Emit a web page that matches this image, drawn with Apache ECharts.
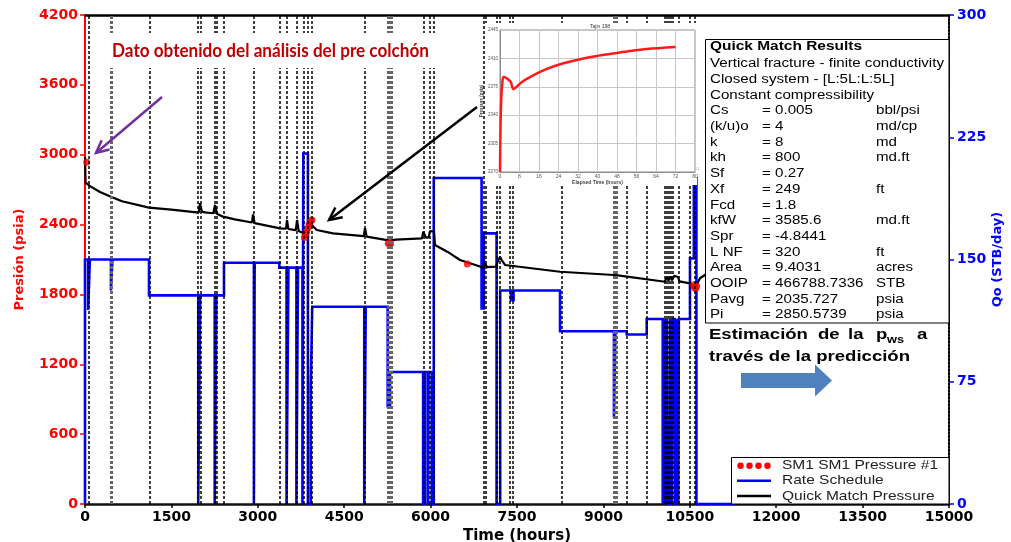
<!DOCTYPE html>
<html>
<head>
<meta charset="utf-8">
<script src="https://cdn.jsdelivr.net/npm/echarts@6/dist/echarts.min.js"></script>
<style>
  html, body { margin: 0; padding: 0; background: #fff; }
  #chart { width: 1011px; height: 542px; }
</style>
</head>
<body>
<div id="chart"></div>
<script>
// ejes
const timeTicks = [0, 1500, 3000, 4500, 6000, 7500, 9000, 10500, 12000, 13500, 15000];
const pressureTicks = [0, 600, 1200, 1800, 2400, 3000, 3600, 4200];
const rateTicks = [0, 75, 150, 225, 300];
const elapsedTicks = [0, 8, 16, 24, 32, 40, 48, 56, 64, 72, 80];
const buildupTicks = [2270, 2305, 2340, 2375, 2410, 2445];

// Quick Match Pressure [horas, psia]
const quickMatchPressure = [
  [0, 2980], [10, 2760], [87, 2730], [260, 2680], [451, 2639], [642, 2600], [1111, 2545], [1500, 2528],
  [1939, 2505], [1975, 2505], [1997, 2583], [2030, 2510], [2083, 2505], [2227, 2497], [2245, 2500],
  [2257, 2568], [2290, 2492], [2396, 2468], [2600, 2445], [2900, 2418], [2917, 2488], [2945, 2412],
  [3385, 2368], [3490, 2365], [3507, 2439], [3530, 2362], [3660, 2352], [3681, 2439], [3710, 2345],
  [3785, 2328], [3810, 2285], [3860, 2300], [3906, 2425], [3950, 2390], [4023, 2353], [4306, 2325],
  [4840, 2300], [4861, 2370], [4890, 2296], [5295, 2262], [5400, 2270], [5850, 2282], [5873, 2339],
  [5920, 2287], [5965, 2290], [5990, 2345], [6059, 2339], [6076, 2224], [6337, 2153], [6510, 2096],
  [6858, 2040], [6900, 2030], [6944, 2067], [6980, 2035], [7135, 2038], [7165, 2080], [7205, 2124],
  [7240, 2090], [7292, 2053], [8247, 1995], [9184, 1967], [9200, 1975], [9220, 1966], [10069, 1909],
  [10100, 1950], [10130, 1920], [10160, 1955], [10190, 1922], [10230, 1960], [10295, 1950], [10320, 1912],
  [10503, 1895], [10590, 1853], [10677, 1939], [10851, 1995]
];

// SM1 SM1 Pressure #1 [horas, psia]
const sm1Pressure = [
  [30, 2935], [3810, 2290], [3830, 2310], [3850, 2340], [3870, 2370], [3890, 2400], [3920, 2430],
  [3940, 2440], [5265, 2240], [5285, 2232], [5305, 2238], [6637, 2061], [10560, 1880], [10580, 1862],
  [10600, 1850], [10620, 1870]
];

// Rate Schedule [horas, STB/day]
const rateSchedule = [
  [0, 0], [0, 150], [55, 150], [55, 119], [85, 119], [85, 150], [450, 150], [450, 131], [476, 131],
  [476, 150], [1111, 150], [1111, 128], [1966, 128], [1966, 0], [1999, 0], [1999, 128], [2252, 128],
  [2252, 0], [2281, 0], [2281, 128], [2413, 128], [2413, 148], [2932, 148], [2932, 0], [2946, 0],
  [2946, 148], [3373, 148], [3373, 145], [3499, 145], [3499, 0], [3532, 0], [3532, 145], [3670, 145],
  [3670, 0], [3698, 0], [3698, 145], [3775, 145], [3775, 0], [3790, 0], [3790, 215], [3870, 215],
  [3870, 0], [3920, 0], [3920, 73], [3945, 73], [3945, 121], [4848, 121], [4848, 0], [4874, 0],
  [4874, 121], [5255, 121], [5255, 60], [5295, 60], [5295, 81], [5870, 81], [5870, 0], [5905, 0],
  [5905, 81], [5955, 81], [5955, 0], [5965, 0], [5965, 81], [6020, 81], [6020, 0], [6055, 0],
  [6055, 200], [6885, 200], [6885, 120], [6925, 120], [6925, 166], [7145, 166], [7145, 0], [7208, 0],
  [7208, 131], [7395, 131], [7395, 125], [7440, 125], [7440, 131], [8247, 131], [8247, 106],
  [9183, 106], [9183, 53], [9209, 53], [9209, 106], [9405, 106], [9405, 104], [9752, 104],
  [9752, 113.5], [10030, 113.5], [10030, 0], [10060, 0], [10060, 113.5], [10075, 113.5], [10075, 0],
  [10105, 0], [10105, 113.5], [10120, 113.5], [10120, 0], [10160, 0], [10160, 113.5], [10185, 113.5],
  [10185, 0], [10205, 0], [10205, 113.5], [10240, 113.5], [10240, 0], [10275, 0], [10275, 113.5],
  [10300, 113.5], [10300, 0], [10310, 0], [10310, 113.5], [10503, 113.5], [10503, 150.7],
  [10570, 150.7], [10570, 200], [10615, 200], [10615, 0], [11300, 0]
];

// cambios de caudal (lineas punteadas)
const eventTimes = [69, 1116, 1957, 2009, 2245, 2286, 2413, 2922, 3373, 3502, 3675, 3790, 3859, 3936,
  4861, 5873, 5977, 6059, 6915, 6962, 7153, 7205, 7378, 7418, 8276, 9410, 9757, 10069, 10104, 10139,
  10174, 10208, 10304, 10503, 10582];
const grayEventTimes = [464, 5270, 5310, 9195, 9225];

// restauracion (inset) [horas transcurridas, psia]
const buildupCurve = [
  [0, 2270], [0.1, 2300], [0.3, 2340], [0.6, 2365], [1, 2381], [1.4, 2387], [2.5, 2386], [3.4, 2384],
  [4.4, 2381], [5.5, 2372], [6.8, 2375], [9, 2381], [12.3, 2387], [19.2, 2397], [26, 2404],
  [32.8, 2409], [39.7, 2413], [46.5, 2416], [53.3, 2419], [60.2, 2421.5], [72, 2424]
];

const resultsHeader = ['Vertical fracture - finite conductivity', 'Closed system - [L:5L:L:5L]', 'Constant compressibility'];
const resultsRows = [
  ['Cs', '= 0.005', 'bbl/psi'], ['(k/u)o', '= 4', 'md/cp'], ['k', '= 8', 'md'], ['kh', '= 800', 'md.ft'],
  ['Sf', '= 0.27', ''], ['Xf', '= 249', 'ft'], ['Fcd', '= 1.8', ''], ['kfW', '= 3585.6', 'md.ft'],
  ['Spr', '= -4.8441', ''], ['L NF', '= 320', 'ft'], ['Area', '= 9.4031', 'acres'],
  ['OOIP', '= 466788.7336', 'STB'], ['Pavg', '= 2035.727', 'psia'], ['Pi', '= 2850.5739', 'psia']
];

const ctx = document.createElement('canvas').getContext('2d');
function fit(str, font, width) {
  ctx.font = font;
  return width / ctx.measureText(str).width;
}
function label(str, x, y, font, fill, sx, extra) {
  return Object.assign({
    type: 'text', x: x, y: y, scaleX: sx || 1, z: 20, silent: true,
    style: { text: str, font: font, fill: fill, align: 'left', verticalAlign: 'middle' }
  }, extra || {});
}
function arrow(x1, y1, x2, y2, color) {
  const a = Math.atan2(y2 - y1, x2 - x1), len = 14, w = 0.45;
  return [
    { type: 'line', z: 20, silent: true, shape: { x1: x1, y1: y1, x2: x2, y2: y2 },
      style: { stroke: color, lineWidth: 2.5 } },
    { type: 'polyline', z: 20, silent: true,
      shape: { points: [[x2 - len * Math.cos(a - w), y2 - len * Math.sin(a - w)], [x2, y2],
        [x2 - len * Math.cos(a + w), y2 - len * Math.sin(a + w)]] },
      style: { stroke: color, lineWidth: 2.5, fill: null } }
  ];
}

const FONT_RES = '12px "Liberation Sans"';
const FONT_RES_B = 'bold 12px "Liberation Sans"';
const sRes = fit(resultsHeader[0], FONT_RES, 234);
const sResB = fit('Quick Match Results', FONT_RES_B, 152);
const FONT_EST = 'bold 14.5px "Liberation Sans"';
const sEst = fit('través de la predicción', FONT_EST, 201);
const FONT_TIT = 'bold 19px "Lato"';
const sTit = fit('Dato obtenido del análisis del pre colchón', FONT_TIT, 317);
const FONT_LEG = '13.5px "Liberation Sans"';
const sLeg = fit('SM1 SM1 Pressure #1', FONT_LEG, 156);

const graphics = [];
// titulo
graphics.push({ type: 'rect', z: 15, silent: true, shape: { x: 100, y: 33, width: 345, height: 35 }, style: { fill: '#fff' } });
graphics.push(label('Dato obtenido del análisis del pre colchón', 112, 51, FONT_TIT, '#c00000', sTit));
graphics.push(...arrow(162, 97, 96, 153, '#7030a0'));
graphics.push(...arrow(477, 107, 329, 220, '#000'));
// inset
graphics.push({ type: 'rect', z: 15, silent: true, shape: { x: 485, y: 23, width: 212, height: 162 }, style: { fill: '#fff' } });
graphics.push(label('Tajin 198', 590, 26.5, '5px "Liberation Sans"', '#333', 1, { z: 25 }));
graphics.push({ type: 'rect', z: 25, silent: true, shape: { x: 648, y: 166, width: 45, height: 5 }, style: { fill: '#fff', stroke: '#ccc', lineWidth: 0.5 } });
graphics.push({ type: 'line', z: 26, silent: true, shape: { x1: 650, y1: 168.5, x2: 657, y2: 168.5 }, style: { stroke: '#ff0000', lineWidth: 1.5 } });
graphics.push(label('SM1 SM1 Pressure #1', 659, 168.5, '4px "Liberation Sans"', '#999', 1, { z: 26 }));
// resultados
graphics.push({ type: 'rect', z: 15, silent: true, shape: { x: 705.5, y: 39.5, width: 243.5, height: 283.5 }, style: { fill: '#fff', stroke: '#000', lineWidth: 1 } });
graphics.push(label('Quick Match Results', 710, 46.7, FONT_RES_B, '#000', sResB));
resultsHeader.forEach((t, i) => graphics.push(label(t, 710, 64 + i * 15.69, FONT_RES, '#000', sRes)));
resultsRows.forEach((r, i) => {
  const y = 64 + (i + 3) * 15.69;
  graphics.push(label(r[0], 710, y, FONT_RES, '#000', sRes));
  graphics.push(label(r[1], 762, y, FONT_RES, '#000', sRes));
  if (r[2]) graphics.push(label(r[2], 876, y, FONT_RES, '#000', sRes));
});
// estimacion
graphics.push(label('Estimación', 709, 335, FONT_EST, '#000', sEst));
graphics.push(label('de', 818, 335, FONT_EST, '#000', sEst));
graphics.push(label('la', 848, 335, FONT_EST, '#000', sEst));
graphics.push(label('p', 876, 335, FONT_EST, '#000', sEst));
graphics.push(label('ws', 887, 340, 'bold 10px "Liberation Sans"', '#000', sEst));
graphics.push(label('a', 917, 335, FONT_EST, '#000', sEst));
graphics.push(label('través de la predicción', 709, 357, FONT_EST, '#000', sEst));
graphics.push({ type: 'polygon', z: 20, silent: true,
  shape: { points: [[741, 373], [815, 373], [815, 364.5], [832, 380.5], [815, 396.5], [815, 388], [741, 388]] },
  style: { fill: '#4f81bd' } });
// leyenda
graphics.push({ type: 'rect', z: 15, silent: true, shape: { x: 731.5, y: 457.5, width: 217.5, height: 46.5 }, style: { fill: '#fff', stroke: '#000', lineWidth: 1 } });
[740.5, 749.5, 758.5, 767.5].forEach((cx) => graphics.push({ type: 'circle', z: 20, silent: true, shape: { cx: cx, cy: 465.7, r: 3.2 }, style: { fill: '#ff0000' } }));
graphics.push({ type: 'line', z: 20, silent: true, shape: { x1: 737, y1: 480.7, x2: 771, y2: 480.7 }, style: { stroke: '#0000ff', lineWidth: 2.5 } });
graphics.push({ type: 'line', z: 20, silent: true, shape: { x1: 737, y1: 496, x2: 771, y2: 496 }, style: { stroke: '#000', lineWidth: 2.5 } });
graphics.push(label('SM1 SM1 Pressure #1', 782, 465.7, FONT_LEG, '#222', sLeg));
graphics.push(label('Rate Schedule', 782, 480.7, FONT_LEG, '#222', sLeg));
graphics.push(label('Quick Match Pressure', 782, 496, FONT_LEG, '#222', sLeg));

const axisFont = { fontFamily: 'DejaVu Sans', fontWeight: 'bold', fontSize: 14 };
const step = (a) => a[1] - a[0];
const plain = (v) => String(v);

const option = {
  animation: false,
  backgroundColor: '#fff',
  grid: [
    { left: 85, right: 62, top: 15, bottom: 38, outerBoundsMode: 'none', containLabel: false },
    { left: 500, top: 30, width: 195, height: 142, outerBoundsMode: 'none', containLabel: false,
      show: true, backgroundColor: '#fff', borderColor: '#8c8c8c', borderWidth: 1, z: 30 }
  ],
  xAxis: [
    {
      type: 'value', gridIndex: 0, min: timeTicks[0], max: timeTicks[timeTicks.length - 1], interval: step(timeTicks),
      name: 'Time (hours)', nameLocation: 'middle', nameGap: 25,
      nameTextStyle: { fontFamily: 'DejaVu Sans', fontWeight: 'bold', fontSize: 15, color: '#000' },
      axisLine: { onZero: false, lineStyle: { color: '#111', width: 2.5 } },
      axisTick: { length: 4, lineStyle: { color: '#000', width: 1.5 } },
      axisLabel: Object.assign({ color: '#000', margin: 6, formatter: plain }, axisFont),
      splitLine: { show: false }
    },
    {
      type: 'value', gridIndex: 0, position: 'top', min: timeTicks[0], max: timeTicks[timeTicks.length - 1],
      axisLine: { onZero: false, lineStyle: { color: '#000', width: 2.5 } },
      axisTick: { show: false }, axisLabel: { show: false }, splitLine: { show: false }
    },
    {
      type: 'value', gridIndex: 1, min: elapsedTicks[0], max: elapsedTicks[elapsedTicks.length - 1], interval: step(elapsedTicks),
      z: 30, name: 'Elapsed Time (hours)', nameLocation: 'middle', nameGap: 8,
      nameTextStyle: { fontSize: 5, color: '#444', fontWeight: 'bold' },
      axisLine: { lineStyle: { color: '#8c8c8c', width: 1 } }, axisTick: { show: false },
      axisLabel: { fontSize: 5, color: '#555', margin: 2 },
      splitLine: { lineStyle: { color: '#c8c8c8', width: 1 } }
    }
  ],
  yAxis: [
    {
      type: 'value', gridIndex: 0, min: pressureTicks[0], max: pressureTicks[pressureTicks.length - 1], interval: step(pressureTicks),
      name: 'Presión (psia)', nameLocation: 'middle', nameGap: 59, nameRotate: 90,
      nameTextStyle: { fontFamily: 'DejaVu Sans', fontWeight: 'bold', fontSize: 13, color: '#ff0000' },
      axisLine: { show: true, onZero: false, lineStyle: { color: '#ff0000', width: 2 } },
      axisTick: { show: true, length: 5, lineStyle: { color: '#ff0000', width: 1.5 } },
      axisLabel: Object.assign({ color: '#ff0000', margin: 7, formatter: plain }, axisFont),
      splitLine: { show: false }
    },
    {
      type: 'value', gridIndex: 0, position: 'right', min: rateTicks[0], max: rateTicks[rateTicks.length - 1], interval: step(rateTicks),
      name: 'Qo (STB/day)', nameLocation: 'middle', nameGap: 42, nameRotate: 90, nameMoveOverlap: false,
      nameTextStyle: { fontFamily: 'DejaVu Sans', fontWeight: 'bold', fontSize: 13, color: '#0000ff' },
      axisLine: { show: true, onZero: false, lineStyle: { color: '#000', width: 2, type: [2, 1.5] } },
      axisTick: { show: true, length: 5, lineStyle: { color: '#0000ff', width: 1.5 } },
      axisLabel: Object.assign({ color: '#0000ff', margin: 8, formatter: plain }, axisFont),
      splitLine: { show: false }
    },
    {
      type: 'value', gridIndex: 1, min: buildupTicks[0], max: buildupTicks[buildupTicks.length - 1], interval: step(buildupTicks),
      z: 30, name: 'Pressure (psia)', nameLocation: 'middle', nameGap: 12, nameRotate: 90,
      nameTextStyle: { fontSize: 4.5, color: '#444', fontWeight: 'bold' },
      axisLine: { show: true, lineStyle: { color: '#8c8c8c', width: 1 } }, axisTick: { show: false },
      axisLabel: { fontSize: 4.5, color: '#555', margin: 2, formatter: plain },
      splitLine: { lineStyle: { color: '#c8c8c8', width: 1 } }
    }
  ],
  series: [
    {
      name: 'events', type: 'line', xAxisIndex: 0, yAxisIndex: 0, data: [], z: 1, silent: true,
      markLine: {
        silent: true, symbol: ['none', 'none'], label: { show: false },
        lineStyle: { color: '#000', width: 1.5, type: [3, 2] },
        data: eventTimes.map((t) => ({ xAxis: t }))
      }
    },
    {
      name: 'events2', type: 'line', xAxisIndex: 0, yAxisIndex: 0, data: [], z: 1, silent: true,
      markLine: {
        silent: true, symbol: ['none', 'none'], label: { show: false },
        lineStyle: { color: '#666', width: 3, type: [3, 2] },
        data: grayEventTimes.map((t) => ({ xAxis: t }))
      }
    },
    {
      name: 'Rate Schedule', type: 'line', xAxisIndex: 0, yAxisIndex: 1, data: rateSchedule, z: 2,
      symbol: 'none', lineStyle: { color: '#0000ff', width: 2.6, join: 'miter', cap: 'butt' }
    },
    {
      name: 'Quick Match Pressure', type: 'line', xAxisIndex: 0, yAxisIndex: 0, data: quickMatchPressure, z: 3,
      symbol: 'none', lineStyle: { color: '#000', width: 2.2 }
    },
    {
      name: 'SM1 SM1 Pressure #1', type: 'scatter', xAxisIndex: 0, yAxisIndex: 0, data: sm1Pressure, z: 4,
      symbolSize: 7, itemStyle: { color: '#ff0000' }
    },
    {
      name: 'buildup', type: 'line', xAxisIndex: 2, yAxisIndex: 2, data: buildupCurve, z: 31,
      symbol: 'none', smooth: 0.3, lineStyle: { color: '#ff1a1a', width: 2.5 }
    }
  ],
  graphic: graphics
};

const chart = echarts.init(document.getElementById('chart'));
chart.setOption(option);
</script>
</body>
</html>
